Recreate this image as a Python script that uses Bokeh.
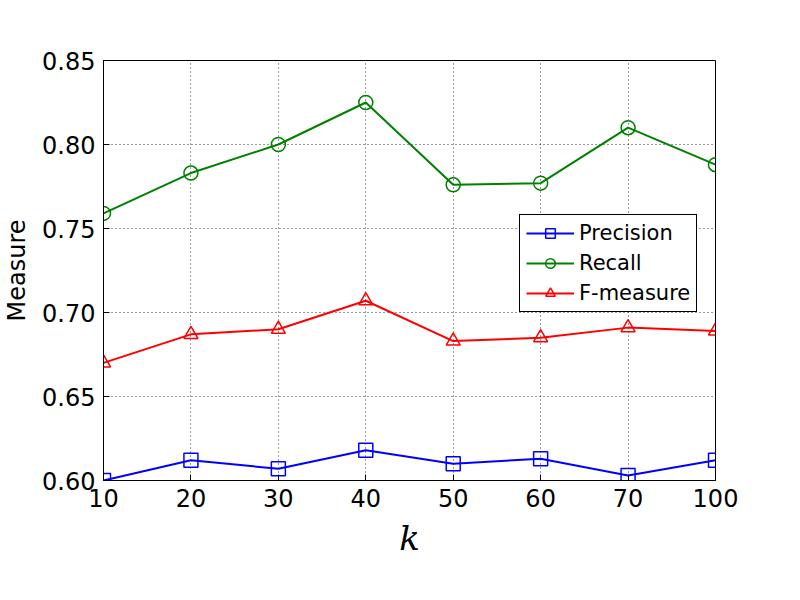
from bokeh.plotting import figure
from bokeh.models import Range1d, FixedTicker, Legend, LegendItem, NumeralTickFormatter
from bokeh.embed import file_html
from bokeh.resources import INLINE

k = [10, 20, 30, 40, 50, 60, 70, 100]
xpos = [10, 20, 30, 40, 50, 60, 70, 80]
xlabels = {x: str(v) for x, v in zip(xpos, k)}
precision = [0.600, 0.612, 0.607, 0.618, 0.610, 0.613, 0.603, 0.612]
recall = [0.759, 0.783, 0.800, 0.825, 0.776, 0.777, 0.810, 0.788]
fmeasure = [0.670, 0.687, 0.690, 0.707, 0.683, 0.685, 0.691, 0.689]
yticks = [0.60, 0.65, 0.70, 0.75, 0.80, 0.85]

p = figure(width=784, height=584, output_backend="svg", toolbar_location=None,
           x_range=Range1d(10, 80), y_range=Range1d(0.60, 0.85),
           min_border_left=95, min_border_right=69, min_border_top=60, min_border_bottom=104)
p.outline_line_color = "black"
p.background_fill_color = "white"

for ax in (p.xaxis[0], p.yaxis[0]):
    ax.major_label_text_font = "DejaVu Sans"
    ax.major_label_text_font_size = "24px"
    ax.major_label_text_color = "black"
    ax.major_tick_in = 6
    ax.major_tick_out = 0
    ax.minor_tick_line_color = None
    ax.axis_line_color = "black"
    ax.major_label_standoff = 8

p.xaxis.ticker = FixedTicker(ticks=xpos)
p.xaxis.major_label_overrides = xlabels
p.yaxis.ticker = FixedTicker(ticks=yticks)
p.yaxis.formatter = NumeralTickFormatter(format="0.00")

p.xaxis.axis_label = "k"
p.xaxis.axis_label_text_font = "DejaVu Serif"
p.xaxis.axis_label_text_font_style = "italic"
p.xaxis.axis_label_text_font_size = "34px"
p.xaxis.axis_label_text_color = "black"
p.xaxis.axis_label_standoff = 8
p.yaxis.axis_label = "Measure"
p.yaxis.axis_label_text_font = "DejaVu Sans"
p.yaxis.axis_label_text_font_style = "normal"
p.yaxis.axis_label_text_font_size = "24px"
p.yaxis.axis_label_text_color = "black"
p.yaxis.axis_label_standoff = 8

p.xgrid.ticker = FixedTicker(ticks=xpos)
p.ygrid.ticker = FixedTicker(ticks=yticks)
for g in (p.xgrid, p.ygrid):
    g.grid_line_color = "black"
    g.grid_line_dash = "1 3"
    g.grid_line_alpha = 0.8

items = []
series = [("Precision", precision, "blue", "square"),
          ("Recall", recall, "green", "circle"),
          ("F-measure", fmeasure, "red", "triangle")]
for name, ys, col, mk in series:
    l = p.line(xpos, ys, line_color=col, line_width=2)
    m = p.scatter(xpos, ys, marker=mk, size=14, line_color=col, fill_color=None, line_width=1.5)
    items.append(LegendItem(label=name, renderers=[l, m]))

leg = Legend(items=items, location=(416, 168), label_text_font="DejaVu Sans",
             label_text_font_size="21px", label_text_color="black",
             border_line_color="black", border_line_alpha=1,
             glyph_width=48, glyph_height=24, spacing=6, padding=6, background_fill_alpha=1)
p.add_layout(leg)

open("out.html", "w").write(file_html(p, INLINE))
